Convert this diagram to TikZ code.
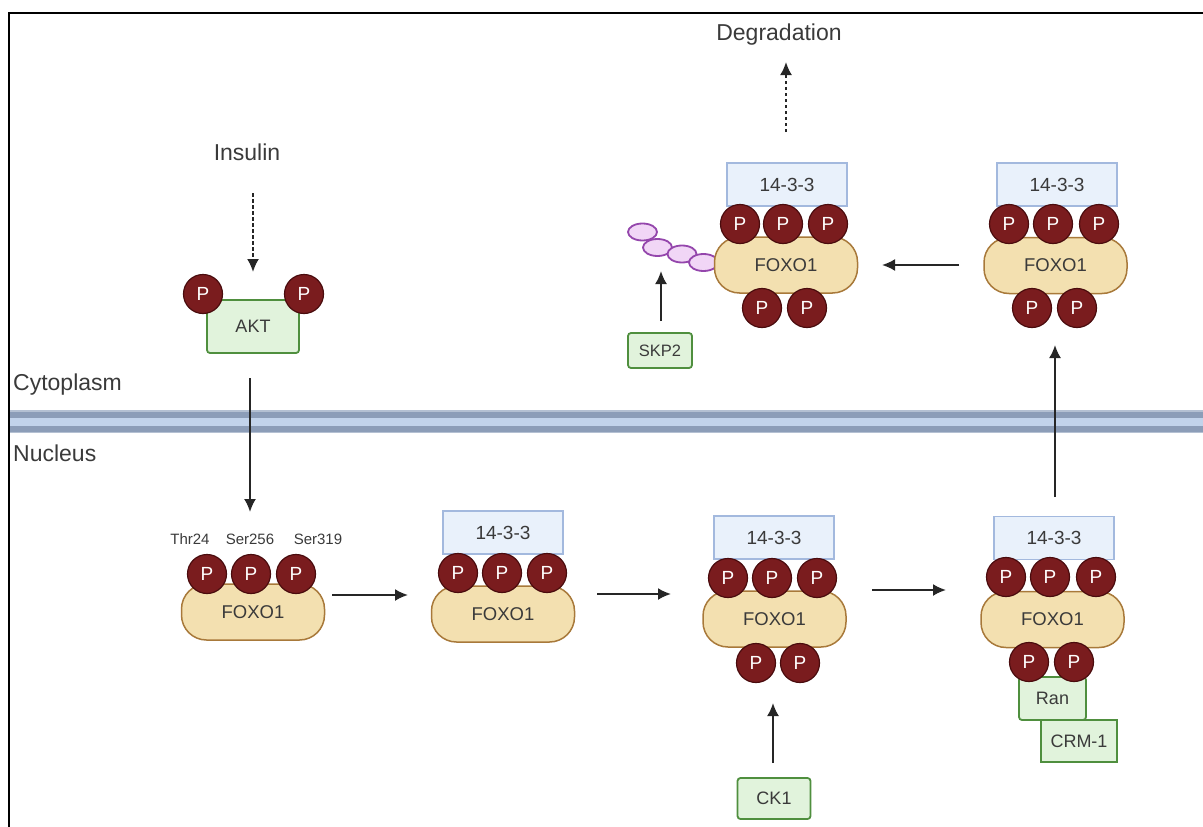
\documentclass[tikz,border=0pt]{standalone}
\usepackage{fontspec}
\setmainfont{Liberation Sans}
\usetikzlibrary{shapes.geometric,arrows.meta}
\definecolor{pfill}{HTML}{7A1C1E}
\definecolor{pborder}{HTML}{4A0C0E}
\definecolor{foxofill}{HTML}{F3E0B0}
\definecolor{foxoborder}{HTML}{A8793A}
\definecolor{bfill}{HTML}{E9F1FB}
\definecolor{bborder}{HTML}{A3B9DE}
\definecolor{gfill}{HTML}{E1F3DC}
\definecolor{gborder}{HTML}{4F8F3E}
\definecolor{ubifill}{HTML}{F1D6F6}
\definecolor{ubiborder}{HTML}{9446AC}
\definecolor{txt}{HTML}{3A3A3A}
\definecolor{memedge}{HTML}{B4C0D2}
\definecolor{memdark}{HTML}{8C9DB8}
\definecolor{memlight}{HTML}{C2D3EB}
\tikzset{
  foxo/.style={draw=foxoborder, fill=foxofill, line width=1.5pt, rounded corners=25pt,
    minimum width=143pt, minimum height=56pt, inner sep=0pt, text=txt,
    font=\fontsize{18.5}{20}\selectfont},
  phos/.style={circle, draw=pborder, fill=pfill, line width=1.2pt, minimum size=39pt,
    inner sep=0pt, text=white, font=\fontsize{19}{20}\selectfont},
  ywhaz/.style={draw=bborder, fill=bfill, line width=1.5pt, minimum width=120pt,
    minimum height=43pt, inner sep=0pt, text=txt, font=\fontsize{19}{20}\selectfont},
  gbox/.style={draw=gborder, fill=gfill, line width=1.8pt, rounded corners=3pt,
    inner sep=0pt, text=txt, font=\fontsize{18}{20}\selectfont},
  ubi/.style={ellipse, draw=ubiborder, fill=ubifill, line width=1.8pt,
    minimum width=29pt, minimum height=17pt, inner sep=0pt},
  biglabel/.style={text=txt, inner sep=0pt, font=\fontsize{23}{26}\selectfont},
  sitelabel/.style={text=txt, inner sep=0pt, font=\fontsize{15}{17}\selectfont},
  arr/.style={line width=2pt, draw=black!85, -{Latex[length=13pt,width=12pt]}},
  darr/.style={arr, dash pattern=on 3.5pt off 2.5pt},
}
\begin{document}
\begin{tikzpicture}[x=1pt,y=-1pt]
\useasboundingbox (0,0) rectangle (1203,827);
% frame
\draw[line width=2.5pt, line cap=rect] (9,827) -- (9,13) -- (1203,13);
% membrane
\fill[memedge] (10,410) rectangle (1203,433);
\fill[memdark] (10,411.5) rectangle (1203,431.5);
\fill[memlight] (10,417.5) rectangle (1203,426);
% compartment labels
\node[biglabel, anchor=west] (cyto) at (13,385) {Cytoplasm};
\node[biglabel, anchor=west] (nuc) at (13,453) {Nucleus};
\node[biglabel] (ins) at (247,152) {Insulin};
\node[biglabel] (deg) at (779,35) {Degradation};

% AKT
\node[gbox, minimum width=92pt, minimum height=53pt] (akt) at (253,326.5) {AKT};
\node[phos] (aktp1) at (203,294) {P};
\node[phos] (aktp2) at (304,294) {P};

% complex 1 (bottom left)
\node[foxo] (b1) at (253,612) {FOXO1};
\node[phos] (b1p1) at (207,574) {P};
\node[phos] (b1p2) at (251,574) {P};
\node[phos] (b1p3) at (296,574) {P};
\node[sitelabel] (thr) at (190,539) {Thr24};
\node[sitelabel] (s256) at (250,539) {Ser256};
\node[sitelabel] (s319) at (318,539) {Ser319};

% complex 2
\node[foxo] (b2) at (503,614) {FOXO1};
\node[ywhaz] (y2) at (503,532.5) {14-3-3};
\node[phos] (b2p1) at (458,573) {P};
\node[phos] (b2p2) at (502,573) {P};
\node[phos] (b2p3) at (547,573) {P};

% complex 3
\node[foxo] (b3) at (774.5,619) {FOXO1};
\node[ywhaz] (y3) at (774,537.5) {14-3-3};
\node[phos] (b3p1) at (728,578) {P};
\node[phos] (b3p2) at (772,578) {P};
\node[phos] (b3p3) at (817,578) {P};
\node[phos] (b3p4) at (756,663) {P};
\node[phos] (b3p5) at (800,663) {P};
\node[gbox, minimum width=73pt, minimum height=41pt] (ck1) at (774,798.5) {CK1};

% complex 4
\node[gbox, minimum width=67pt, minimum height=43pt] (ran) at (1052.5,698.5) {Ran};
\node[gbox, rounded corners=0pt, minimum width=76pt, minimum height=42pt] (crm) at (1079,741) {CRM-1};
\node[foxo] (b4) at (1052.5,619.5) {FOXO1};
\node[ywhaz] (y4) at (1054,538) {14-3-3};
\node[phos] (b4p1) at (1006,577) {P};
\node[phos] (b4p2) at (1050,577) {P};
\node[phos] (b4p3) at (1096,577) {P};
\node[phos] (b4p4) at (1029,662) {P};
\node[phos] (b4p5) at (1074,662) {P};

% top middle complex
\node[ubi] (u1) at (642.5,232) {};
\node[ubi] (u2) at (657.5,247.5) {};
\node[ubi] (u3) at (682,254) {};
\node[ubi] (u4) at (703.5,262.5) {};
\node[foxo] (bt1) at (786,265) {FOXO1};
\node[ywhaz] (yt1) at (787,184.5) {14-3-3};
\node[phos] (bt1p1) at (740,224) {P};
\node[phos] (bt1p2) at (783,224) {P};
\node[phos] (bt1p3) at (828,224) {P};
\node[phos] (bt1p4) at (762,308) {P};
\node[phos] (bt1p5) at (807,308) {P};
\node[gbox, minimum width=64pt, minimum height=35pt, font=\fontsize{16.5}{18}\selectfont] (skp) at (660,350.5) {SKP2};

% top right complex
\node[foxo] (bt2) at (1055.5,265.5) {FOXO1};
\node[ywhaz] (yt2) at (1057,184.5) {14-3-3};
\node[phos] (bt2p1) at (1009,224) {P};
\node[phos] (bt2p2) at (1053,224) {P};
\node[phos] (bt2p3) at (1099,224) {P};
\node[phos] (bt2p4) at (1032,308) {P};
\node[phos] (bt2p5) at (1077,308) {P};

% connectors
\coordinate (insStart) at (253,193);
\coordinate (insEnd) at (253,272);
\draw[darr] (insStart) -- (insEnd);
\coordinate (aktOut) at (250,378);
\coordinate (b1In) at (250,512);
\draw[arr] (aktOut) -- (b1In);
\coordinate (c12a) at (332,595);
\coordinate (c12b) at (408,595);
\draw[arr] (c12a) -- (c12b);
\coordinate (c23a) at (597,594);
\coordinate (c23b) at (671,594);
\draw[arr] (c23a) -- (c23b);
\coordinate (c34a) at (872,590);
\coordinate (c34b) at (946,590);
\draw[arr] (c34a) -- (c34b);
\coordinate (ckBase) at (773,763);
\coordinate (ckTip) at (773,703);
\draw[arr] (ckBase) -- (ckTip);
\coordinate (c4ta) at (1055,497);
\coordinate (c4tb) at (1055,345);
\draw[arr] (c4ta) -- (c4tb);
\coordinate (ctta) at (959,265);
\coordinate (cttb) at (882,265);
\draw[arr] (ctta) -- (cttb);
\coordinate (skBase) at (661,321);
\coordinate (skTip) at (661,271);
\draw[arr] (skBase) -- (skTip);
\coordinate (degA) at (786,132);
\coordinate (degB) at (786,62);
\draw[darr] (degA) -- (degB);
\end{tikzpicture}
\end{document}
